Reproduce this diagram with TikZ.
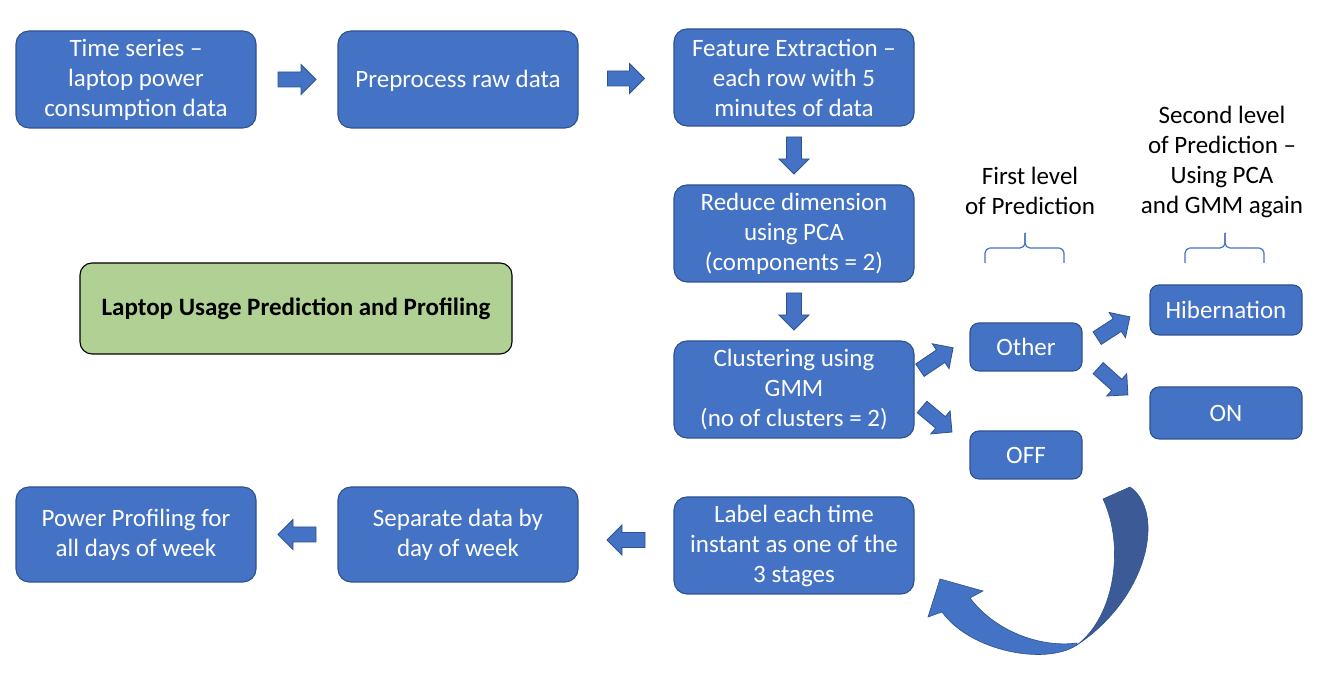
\documentclass[tikz,border=0pt]{standalone}
\usepackage{fontspec}
\setmainfont{Carlito}
\usetikzlibrary{calc}
\definecolor{boxblue}{HTML}{4472C4}
\definecolor{boxedge}{HTML}{2F528F}
\definecolor{darkblue}{HTML}{3C5A96}
\definecolor{greenbox}{HTML}{B0D094}
\newcommand\blockarr[4]{% name, centre, angle, length
  \coordinate (#1) at #2;
  \draw[barrow, shift={(#1)}, rotate=#3]
    ({-#4/2},-7.5) -- ({#4/2-15},-7.5) -- ({#4/2-15},-15) -- ({#4/2},0)
    -- ({#4/2-15},15) -- ({#4/2-15},7.5) -- ({-#4/2},7.5) -- cycle;}
\begin{document}
\begin{tikzpicture}[x=1pt,y=1pt,
  box/.style={draw=boxedge, line width=1.1pt, fill=boxblue, rounded corners=13pt,
    text=white, align=center, inner sep=0pt,
    font=\fontsize{25}{30}\selectfont},
  bigbox/.style={box, minimum width=240pt, minimum height=97pt,
    execute at begin node={\rule{0pt}{21pt}}},
  smallbox/.style={box, rounded corners=9pt},
  barrow/.style={draw=boxedge, line width=0.8pt, fill=boxblue, line join=miter},
  lbl/.style={align=center, text=black, font=\fontsize{25}{30}\selectfont},
  bracestyle/.style={draw=boxblue, line width=1.2pt, rounded corners=5pt}]
\useasboundingbox (0,0) rectangle (1320,676);

% main boxes
\node[bigbox] (ts)  at (136,596.5) {Time series –\\laptop power\\consumption data};
\node[bigbox] (pre) at (458,596.5) {Preprocess raw data};
\node[bigbox] (fe)  at (794,598.5) {Feature Extraction –\\each row with 5\\minutes of data};
\node[bigbox] (rd)  at (794,442.5) {Reduce dimension\\using PCA\\(components = 2)};
\node[bigbox] (cl)  at (794,286.5) {Clustering using\\GMM\\(no of clusters = 2)};
\node[bigbox] (lb)  at (794,130.5) {Label each time\\instant as one of the\\3 stages};
\node[bigbox, minimum height=95pt] (sep) at (458,141.5) {Separate data by\\day of week};
\node[bigbox, minimum height=95pt] (pp)  at (136,141.5) {Power Profiling for\\all days of week};

\node[smallbox, minimum width=112pt, minimum height=48pt] (oth) at (1026,329) {Other};
\node[smallbox, minimum width=112pt, minimum height=48pt] (off) at (1026,221) {OFF};
\node[smallbox, minimum width=152pt, minimum height=50pt] (hib) at (1226,366) {Hibernation};
\node[smallbox, minimum width=152pt, minimum height=52pt] (on)  at (1226,263) {ON};

\node[draw=black, line width=1.1pt, fill=greenbox, rounded corners=12pt,
  minimum width=432pt, minimum height=91pt, inner sep=0pt,
  font=\bfseries\fontsize{25}{30}\selectfont] (title) at (296,367.5)
  {Laptop Usage Prediction and Profiling};

% labels
\node[lbl] (lvl1) at (1030,485.5) {First level\\of Prediction};
\node[lbl] (lvl2) at (1222,514) {Second level\\of Prediction –\\Using PCA\\and GMM again};

% braces
\draw[bracestyle] (985,413) -- (985,428) -- (1025,428) -- (1025,443);
\draw[bracestyle] (1064,413) -- (1064,428) -- (1025,428) -- (1025,443);
\draw[bracestyle] (1185,413) -- (1185,428) -- (1225,428) -- (1225,443);
\draw[bracestyle] (1264,413) -- (1264,428) -- (1225,428) -- (1225,443);

% block arrows
\blockarr{a1}{($(ts.east)!0.5!(pre.west)$)}{0}{38}
\blockarr{a2}{($(pre.east)!0.5!(fe.west)$)}{0}{37}
\blockarr{a3}{($(fe.south)!0.5!(rd.north)$)}{-90}{37}
\blockarr{a4}{($(rd.south)!0.5!(cl.north)$)}{-90}{37}
\blockarr{a5}{($(pp.east)!0.5!(sep.west)$)}{180}{38}
\blockarr{a6}{($(sep.east)!0.5!(lb.west)$)}{180}{38}
\blockarr{a7}{(936.5,317)}{34}{40}
\blockarr{a8}{(937,256.5)}{-40}{39}
\blockarr{a9}{(1113.5,348.5)}{33}{39}
\blockarr{a10}{(1113,294.5)}{-42}{40}

% curved return arrow
\fill[darkblue, draw=boxedge, line width=0.6pt]
  (1130,189) .. controls (1165,165) and (1150,80) .. (1077,31)
  .. controls (1115,60) and (1125,130) .. (1103,177) -- cycle;
\fill[boxblue, draw=boxedge, line width=0.6pt]
  (1077,31) .. controls (1045,10) and (970,25) .. (942,64)
  -- (928,59) -- (940,97) -- (983,85) -- (970,78)
  .. controls (995,45) and (1040,28) .. (1077,33) -- cycle;
\end{tikzpicture}
\end{document}
